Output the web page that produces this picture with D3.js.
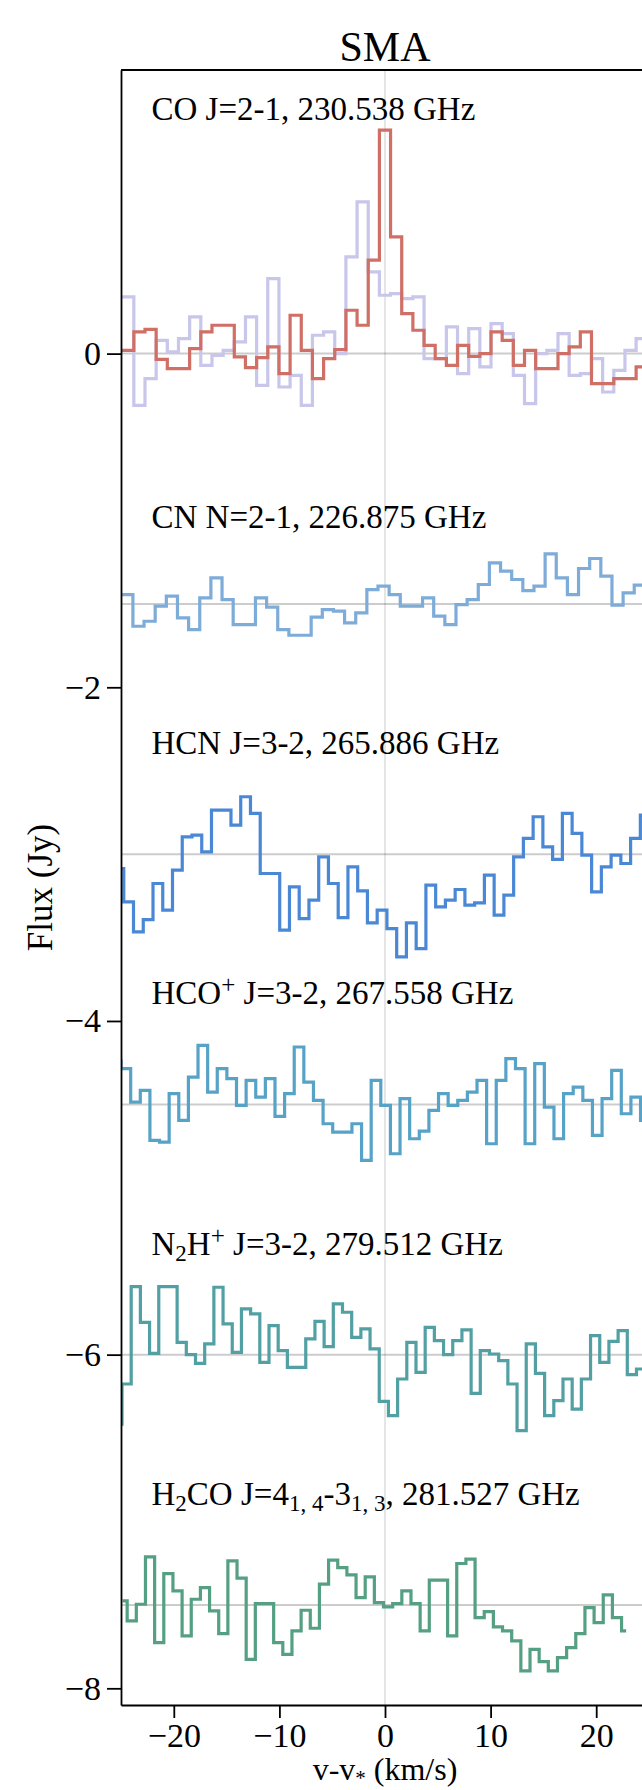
<!DOCTYPE html>
<html><head><meta charset="utf-8">
<script src="https://cdn.jsdelivr.net/npm/d3@7"></script>
<style>
body{margin:0;background:#fff}
svg{display:block}
text{font-family:"Liberation Serif","Times New Roman",Times,serif;fill:#000}
</style>
</head><body>
<svg id="chart" width="642" height="1790"></svg>
<script>
// ---------- data ----------
const velocityDomain = [-25, 25];
const fluxDomain = [-8.1, 1.7];
const xTickValues = [-20, -10, 0, 10, 20];
const yTickValues = [0, -2, -4, -6, -8];
const baselines = [0, -1.5, -3, -4.5, -6, -7.5];

// channel grids (first channel centre, channel width), km/s
const channelStarts = [-25.37, -25.455, -25.2, -25.45, -25.34, -24.85];
const channelWidths = [1.057, 1.055, 0.923, 0.911, 0.87, 0.867];

// CO J=2-1 (two spectra) relative flux, Jy
const coValues = [0.02, 0.02, 0.13, 0.145, -0.035, -0.09, -0.09, 0.03, 0.13, 0.17, 0.17, -0.02, -0.084, -0.024, 0.04, -0.12, 0.23, 0.02, -0.15, -0.03, 0.024, 0.26, 0.17, 0.56, 1.34, 0.70, 0.24, 0.14, 0.05, -0.03, -0.07, 0.05, -0.016, 0.0, 0.13, 0.08, -0.07, 0.02, -0.09, -0.09, 0.0, 0.04, 0.13, -0.18, -0.18, -0.15, -0.15, -0.08, -0.08];
const coAltValues = [0.34, 0.34, -0.31, -0.15, 0.08, 0.01, 0.09, 0.22, -0.07, -0.01, 0.02, 0.07, 0.22, -0.19, 0.45, -0.2, -0.13, -0.31, 0.11, 0.13, 0.0, 0.58, 0.91, 0.49, 0.35, 0.36, 0.33, 0.34, -0.03, -0.03, 0.16, -0.12, 0.15, -0.08, 0.18, 0.12, -0.13, -0.3, 0.0, 0.02, 0.12, -0.13, -0.12, -0.03, -0.23, -0.1, 0.02, 0.09, 0.09];
// CN N=2-1
const cnValues = [0.056, 0.056, -0.134, -0.104, -0.014, 0.046, -0.084, -0.154, 0.036, 0.156, 0.026, -0.124, -0.124, 0.036, -0.02, -0.154, -0.188, -0.188, -0.08, -0.034, -0.044, -0.114, -0.054, 0.086, 0.106, 0.056, -0.014, -0.014, 0.036, -0.074, -0.124, -0.004, 0.026, 0.116, 0.246, 0.196, 0.146, 0.08, 0.106, 0.30, 0.156, 0.056, 0.212, 0.272, 0.166, -0.008, 0.066, 0.112, 0.112];
// HCN J=3-2
const hcnValues = [-0.086, -0.286, -0.466, -0.392, -0.176, -0.336, -0.096, 0.104, 0.114, 0.014, 0.264, 0.264, 0.174, 0.344, 0.244, -0.116, -0.116, -0.456, -0.196, -0.386, -0.276, -0.016, -0.176, -0.38, -0.076, -0.22, -0.412, -0.336, -0.446, -0.616, -0.412, -0.566, -0.186, -0.316, -0.276, -0.212, -0.306, -0.292, -0.126, -0.366, -0.246, -0.016, 0.094, 0.224, 0.044, -0.032, 0.244, 0.124, -0.006, -0.226, -0.076, -0.006, -0.056, 0.094, 0.234, 0.234];
// HCO+ J=3-2
const hcoValues = [0.26, 0.214, 0.014, 0.084, -0.216, -0.226, 0.064, -0.096, 0.164, 0.354, 0.074, 0.214, 0.154, -0.006, 0.144, 0.044, 0.154, -0.072, 0.064, 0.344, 0.134, 0.024, -0.116, -0.166, -0.166, -0.116, -0.336, 0.144, -0.006, -0.296, 0.034, -0.206, -0.16, -0.036, 0.064, -0.006, 0.024, 0.074, 0.144, -0.236, 0.144, 0.274, 0.214, -0.236, 0.244, -0.016, -0.206, 0.064, 0.104, 0.024, -0.186, 0.034, 0.204, -0.056, 0.044, -0.096, -0.096];
// N2H+ J=3-2
const n2hValues = [-0.416, -0.176, 0.408, 0.194, 0.008, 0.408, 0.408, 0.074, 0.0, -0.052, 0.064, 0.404, 0.184, 0.014, 0.274, 0.244, -0.046, 0.174, 0.024, -0.076, -0.076, 0.094, 0.2, 0.048, 0.304, 0.254, 0.104, 0.154, 0.034, -0.28, -0.366, -0.146, 0.074, -0.106, 0.164, 0.084, 0.0, 0.084, 0.148, -0.232, 0.024, 0.004, -0.036, -0.176, -0.456, 0.064, -0.112, -0.366, -0.276, -0.146, -0.326, -0.146, 0.114, -0.046, 0.08, 0.144, -0.12, -0.086, -0.086];
// H2CO J=4(1,4)-3(1,3)
const h2coValues = [0.024, -0.096, 0.004, 0.288, -0.226, 0.188, 0.084, -0.186, 0.034, 0.104, -0.036, -0.172, 0.264, 0.16, -0.326, 0.008, 0.008, -0.226, -0.296, -0.156, -0.032, -0.14, 0.124, 0.268, 0.224, 0.18, 0.044, 0.168, 0.014, -0.012, 0.008, 0.084, 0.008, -0.156, 0.148, 0.148, -0.186, 0.248, 0.274, -0.076, -0.04, -0.132, -0.156, -0.216, -0.396, -0.266, -0.34, -0.396, -0.316, -0.256, -0.172, -0.016, -0.106, 0.06, -0.076, -0.156];

// line labels (plain text pieces, "sub"/"sup" markers)
const lineLabels = [
  [["CO J=2-1, 230.538 GHz"]],
  [["CN N=2-1, 226.875 GHz"]],
  [["HCN J=3-2, 265.886 GHz"]],
  [["HCO"], ["+", "sup"], [" J=3-2, 267.558 GHz"]],
  [["N"], ["2", "sub"], ["H"], ["+", "sup"], [" J=3-2, 279.512 GHz"]],
  [["H"], ["2", "sub"], ["CO J=4"], ["1, 4", "sub"], ["-3"], ["1, 3", "sub"], [", 281.527 GHz"]]
];

// ---------- layout / style ----------
const W = 642, H = 1790;
const plot = {left: 121, right: 649, top: 70, bottom: 1705};
const labelOffsets = [1.40, 0.455, 0.6, 0.6, 0.6, 0.6];
const colors = ["#cf6f66", "#7eacd8", "#4a88d6", "#57a3c8", "#52a0a4", "#55a083"];
const altColor = "#c8c6ea";

const svg = d3.select("#chart");
const x = d3.scaleLinear().domain(velocityDomain).range([plot.left, plot.right]);
const y = d3.scaleLinear().domain(fluxDomain).range([plot.bottom, plot.top]);

svg.append("defs").append("clipPath").attr("id", "clip")
  .append("rect").attr("x", plot.left).attr("y", plot.top)
  .attr("width", plot.right - plot.left).attr("height", plot.bottom - plot.top);

// reference lines
const grid = svg.append("g").attr("clip-path", "url(#clip)");
grid.append("line").attr("x1", x(0)).attr("x2", x(0)).attr("y1", plot.top).attr("y2", plot.bottom)
  .attr("stroke", "#000").attr("stroke-opacity", 0.1).attr("stroke-width", 2);
grid.selectAll("line.base").data(baselines).join("line").attr("class", "base")
  .attr("x1", plot.left).attr("x2", plot.right).attr("y1", d => y(d)).attr("y2", d => y(d))
  .attr("stroke", "#000").attr("stroke-opacity", 0.2).attr("stroke-width", 2);

// spectra
const line = d3.line().curve(d3.curveStep).x(d => x(d[0])).y(d => y(d[1]));
function pts(values, i) {
  return values.map((v, k) => [channelStarts[i] + k * channelWidths[i], baselines[i] + v]);
}
const spectra = svg.append("g").attr("clip-path", "url(#clip)").attr("fill", "none")
  .attr("stroke-width", 3.2).attr("stroke-linejoin", "miter");
spectra.append("path").attr("d", line(pts(coAltValues, 0))).attr("stroke", altColor);
const seriesList = [coValues, cnValues, hcnValues, hcoValues, n2hValues, h2coValues];
seriesList.forEach((vals, i) => {
  spectra.append("path").attr("d", line(pts(vals, i))).attr("stroke", colors[i]);
});

// labels
lineLabels.forEach((parts, i) => {
  const t = svg.append("text").attr("x", 151.5).attr("y", y(baselines[i] + labelOffsets[i]))
    .attr("font-size", 33);
  parts.forEach(p => {
    const s = t.append("tspan").text(p[0]);
    if (p[1] === "sub") s.attr("font-size", 23).attr("baseline-shift", "-6");
    if (p[1] === "sup") s.attr("font-size", 25).attr("baseline-shift", "11");
  });
});

// axes
const axisStyle = g => {
  g.selectAll("path,line").attr("stroke", "#000").attr("stroke-width", 1.8);
  g.selectAll("text").attr("font-size", 34).attr("font-family", "'Liberation Serif',serif").attr("fill", "#000");
};
svg.append("g").attr("transform", `translate(${plot.left},0)`)
  .call(d3.axisLeft(y).tickValues(yTickValues).tickSize(14).tickSizeOuter(0).tickPadding(6))
  .call(axisStyle);
svg.append("g").attr("transform", `translate(0,${plot.bottom})`)
  .call(d3.axisBottom(x).tickValues(xTickValues).tickSize(13).tickSizeOuter(0).tickPadding(5))
  .call(axisStyle);
svg.append("line").attr("x1", plot.left).attr("x2", plot.right).attr("y1", plot.top).attr("y2", plot.top)
  .attr("stroke", "#000").attr("stroke-width", 1.8);
svg.append("line").attr("x1", plot.right).attr("x2", plot.right).attr("y1", plot.top).attr("y2", plot.bottom)
  .attr("stroke", "#000").attr("stroke-width", 1.8);

// titles
svg.append("text").attr("x", (plot.left + plot.right) / 2).attr("y", 61)
  .attr("text-anchor", "middle").attr("font-size", 42).text("SMA");
const xl = svg.append("text").attr("x", (plot.left + plot.right) / 2).attr("y", 1780)
  .attr("text-anchor", "middle").attr("font-size", 32);
xl.append("tspan").text("v-v");
xl.append("tspan").text("*").attr("font-size", 21).attr("baseline-shift", "-5");
xl.append("tspan").text(" (km/s)");
svg.append("text").attr("transform", `translate(52,${(plot.top + plot.bottom) / 2}) rotate(-90)`)
  .attr("text-anchor", "middle").attr("font-size", 35).text("Flux (Jy)");
</script>
</body></html>
